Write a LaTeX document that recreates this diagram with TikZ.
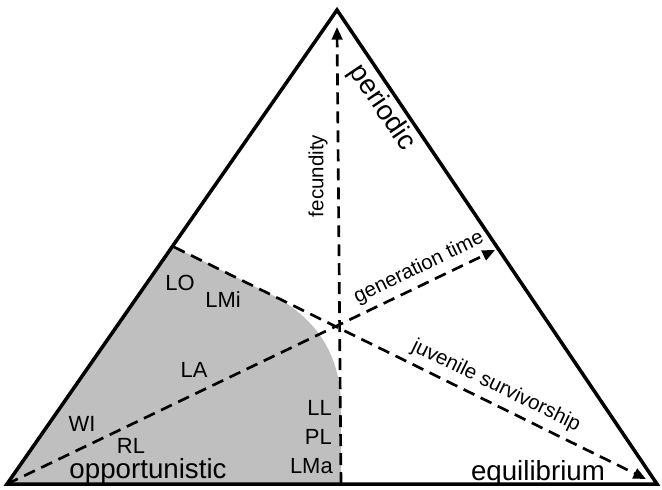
\documentclass[tikz,border=0pt]{standalone}
\usepackage{fontspec}
\setmainfont{Liberation Sans}
\usetikzlibrary{arrows.meta}
\definecolor{mydark}{RGB}{0,0,0}
\definecolor{mygrey}{RGB}{191,191,191}
\tikzset{
  edge/.style={line width=2.5pt, color=mydark, line join=miter},
  axisline/.style={line width=1.9pt, color=mydark, dash pattern=on 8.5pt off 5pt},
  axisarrow/.style={axisline, -{Triangle[length=9pt, width=7.5pt]}},
  strategy/.style={font=\fontsize{19.7}{22}\selectfont, inner sep=0pt, anchor=base},
  taxon/.style={font=\fontsize{15.6}{18}\selectfont, inner sep=0pt, anchor=base},
  trait/.style={font=\fontsize{14.6}{17}\selectfont, inner sep=0pt}
}
\begin{document}
\begin{tikzpicture}[x=0.025cm, y=-0.025cm]
  \useasboundingbox (0,0) rectangle (662,489);

  % ── Corners and axis ends ───────────────────────────────────────────────
  \coordinate (opp) at (7,484);
  \coordinate (equ) at (657,484);
  \coordinate (per) at (337,10);
  \coordinate (fbase) at (341,484);
  \coordinate (ftip)  at (337,27);
  \coordinate (jstart) at (174,247);
  \coordinate (jtip)   at (646,479);
  \coordinate (gtip)   at (495,250);

  % ── Shaded region ───────────────────────────────────────────────────────
  \fill[mygrey] (opp) -- (jstart) -- (272,295)
    .. controls (312,316) and (338,348) .. (341,400) -- (fbase) -- cycle;

  % ── Triangle ────────────────────────────────────────────────────────────
  \draw[edge] (opp) -- (equ) -- (per) -- cycle;

  % ── Trait axes ──────────────────────────────────────────────────────────
  \draw[axisarrow] (fbase) -- (ftip);
  \draw[axisarrow] (opp) -- (gtip);
  \draw[axisarrow] (jstart) -- (jtip);

  % ── Axis labels ─────────────────────────────────────────────────────────
  \node[trait, rotate=90]  (fec) at (318,176) {fecundity};
  \node[trait, rotate=26]  (gen) at (419,268) {generation time};
  \node[trait, rotate=-26] (juv) at (496,386) {juvenile survivorship};

  % ── Strategy labels ─────────────────────────────────────────────────────
  \node[strategy, anchor=center, rotate=-56] (lperiodic) at (382,108) {periodic};
  \node[strategy] (lopp) at (148,478) {opportunistic};
  \node[strategy] (lequ) at (538,480) {equilibrium};

  % ── Taxa ────────────────────────────────────────────────────────────────
  \node[taxon] (lo)  at (180,290) {LO};
  \node[taxon] (lmi) at (223,307) {LMi};
  \node[taxon] (la)  at (194,377) {LA};
  \node[taxon] (wi)  at (82,431)  {WI};
  \node[taxon] (rl)  at (131,453) {RL};
  \node[taxon, anchor=base east] (ll)  at (332,415) {LL};
  \node[taxon, anchor=base east] (pl)  at (332,444) {PL};
  \node[taxon, anchor=base east] (lma) at (333,473) {LMa};
\end{tikzpicture}
\end{document}
